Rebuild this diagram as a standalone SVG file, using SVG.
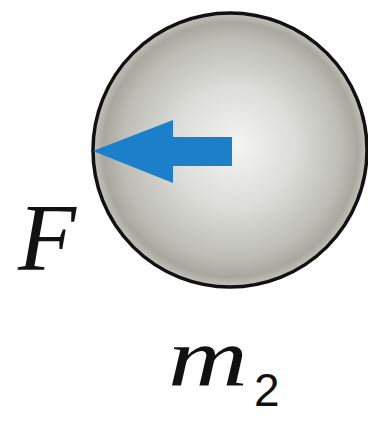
<svg xmlns="http://www.w3.org/2000/svg" width="368" height="423" viewBox="0 0 368 423">
<defs>
<radialGradient id="ball" cx="230" cy="150" r="137" fx="238" fy="145" gradientUnits="userSpaceOnUse">
<stop offset="0" stop-color="#f4f4f2"/>
<stop offset="0.45" stop-color="#dcdcd8"/>
<stop offset="0.8" stop-color="#bdbdb6"/>
<stop offset="0.93" stop-color="#a8a8a0"/>
<stop offset="1" stop-color="#c4c4bd"/>
</radialGradient>
<style>
.lbl{font-family:"Liberation Serif","DejaVu Serif","Times New Roman",serif;font-style:italic;fill:#111}
.sub{font-family:"Liberation Sans",Arial,sans-serif;fill:#111}
</style>
</defs>
<rect width="368" height="423" fill="#fff"/>
<g id="sphere">
<circle cx="230" cy="150" r="137" fill="url(#ball)" stroke="#111" stroke-width="3.5"/>
</g>
<g id="connectors">
<polygon points="93,151 173,120 173,137 232,137 232,166 173,166 173,183" fill="#1b7fca"/>
</g>
<g id="labelF">
<text class="lbl" x="18" y="270" font-size="95">F</text>
</g>
<g id="labelM">
<text class="lbl" x="168" y="385" font-size="82" textLength="80" lengthAdjust="spacingAndGlyphs">m</text>
<text class="sub" x="254" y="406" font-size="46">2</text>
</g>
</svg>
